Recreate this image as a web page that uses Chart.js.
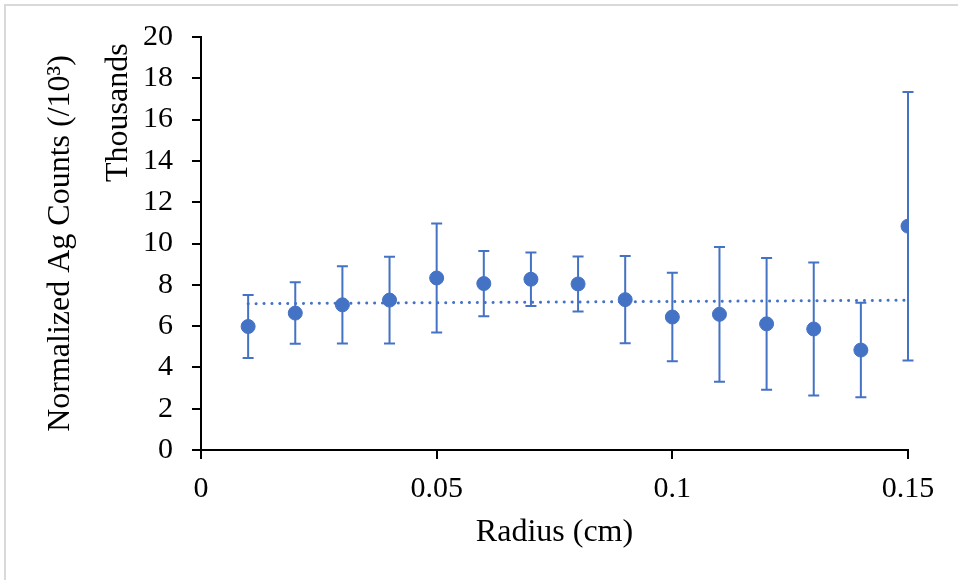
<!DOCTYPE html>
<html>
<head>
<meta charset="utf-8">
<script src="https://cdn.jsdelivr.net/npm/chart.js@4"></script>
<style>
    html, body { margin: 0; padding: 0; background: #fff; overflow: hidden; }
    .frame { position: absolute; left: 4px; top: 4px; width: 1100px; height: 800px; border: 2px solid #d9d9d9; }
    .wrap { position: absolute; left: 0; top: 0; width: 958px; height: 580px; }
</style>
</head>
<body>
<div class="frame"></div>
<div class="wrap"><canvas id="chart"></canvas></div>
<script>
// radius (cm)
var radius = [0.01, 0.02, 0.03, 0.04, 0.05, 0.06, 0.07, 0.08, 0.09, 0.10, 0.11, 0.12, 0.13, 0.14, 0.15];
// normalized Ag counts
var counts = [5980, 6630, 7030, 7260, 8330, 8060, 8270, 8040, 7280, 6440, 6570, 6110, 5860, 4840, 10840];
// +/- error
var errors = [1530, 1490, 1870, 2100, 2640, 1580, 1300, 1330, 2110, 2140, 3260, 3190, 3220, 2290, 6500];

var blue = '#4472C4';
var serif = 'Liberation Serif, Times New Roman, serif';

// linear trendline (least squares), like Excel
var n = radius.length;
var mx = radius.reduce((a, b) => a + b, 0) / n;
var my = counts.reduce((a, b) => a + b, 0) / n;
var sxy = 0, sxx = 0;
for (var i = 0; i < n; i++) {
    sxy += (radius[i] - mx) * (counts[i] - my);
    sxx += (radius[i] - mx) * (radius[i] - mx);
}
var slope = sxy / sxx;
var icept = my - slope * mx;
var trend = [radius[0], radius[n - 1]].map(x => ({ x: x, y: icept + slope * x }));

// error bars drawn under the markers
var errorBars = {
    id: 'errorBars',
    beforeDatasetsDraw(chart) {
        var ctx = chart.ctx, xs = chart.scales.x, ys = chart.scales.y;
        ctx.save();
        ctx.strokeStyle = blue;
        ctx.lineWidth = 2;
        radius.forEach((r, i) => {
            var px = xs.getPixelForValue(r);
            var top = ys.getPixelForValue(counts[i] + errors[i]);
            var bot = ys.getPixelForValue(counts[i] - errors[i]);
            ctx.beginPath();
            ctx.moveTo(px, top); ctx.lineTo(px, bot);
            ctx.moveTo(px - 5.5, top); ctx.lineTo(px + 5.5, top);
            ctx.moveTo(px - 5.5, bot); ctx.lineTo(px + 5.5, bot);
            ctx.stroke();
        });
        ctx.restore();
    }
};

// "Thousands" display unit label
var unitLabel = {
    id: 'unitLabel',
    afterDraw(chart) {
        var ctx = chart.ctx;
        ctx.save();
        ctx.translate(127, 182);
        ctx.rotate(-Math.PI / 2);
        ctx.font = '32px ' + serif;
        ctx.fillStyle = '#000';
        ctx.textAlign = 'left';
        ctx.textBaseline = 'alphabetic';
        ctx.fillText('Thousands', 0, 0);
        ctx.restore();
    }
};

new Chart(document.getElementById('chart'), {
    type: 'scatter',
    data: {
        datasets: [{
            data: radius.map((r, i) => ({ x: r, y: counts[i] })),
            backgroundColor: blue,
            borderColor: blue,
            pointRadius: 7,
            pointHoverRadius: 7
        }, {
            type: 'line',
            data: trend,
            borderColor: blue,
            borderWidth: 3,
            borderDash: [0.1, 7.8],
            borderCapStyle: 'round',
            pointRadius: 0,
            fill: false
        }]
    },
    options: {
        responsive: true,
        maintainAspectRatio: false,
        animation: false,
        layout: { padding: { top: 36, right: 50, left: 0, bottom: 0 } },
        plugins: { legend: { display: false }, tooltip: { enabled: false } },
        scales: {
            x: {
                type: 'linear',
                min: 0,
                max: 0.15,
                afterFit: s => { s.height = 130; },
                ticks: {
                    stepSize: 0.05,
                    color: '#000',
                    padding: 12,
                    font: { family: serif, size: 30 },
                    callback: v => String(+v.toFixed(2))
                },
                grid: { drawOnChartArea: false, color: '#000', lineWidth: 2, tickLength: 9 },
                border: { color: '#000', width: 2 },
                title: {
                    display: true,
                    text: 'Radius (cm)',
                    color: '#000',
                    font: { family: serif, size: 32 },
                    padding: { top: 0, bottom: 28 }
                }
            },
            y: {
                min: 0,
                max: 20000,
                afterFit: s => { s.width = 201; },
                ticks: {
                    stepSize: 2000,
                    color: '#000',
                    padding: 19,
                    font: { family: serif, size: 30 },
                    callback: v => v / 1000
                },
                grid: { drawOnChartArea: false, color: '#000', lineWidth: 2, tickLength: 9 },
                border: { color: '#000', width: 2 },
                title: {
                    display: true,
                    text: 'Normalized Ag Counts (/10³)',
                    color: '#000',
                    font: { family: serif, size: 32 },
                    padding: { top: 41, bottom: 0 }
                }
            }
        }
    },
    plugins: [errorBars, unitLabel]
});
</script>
</body>
</html>
